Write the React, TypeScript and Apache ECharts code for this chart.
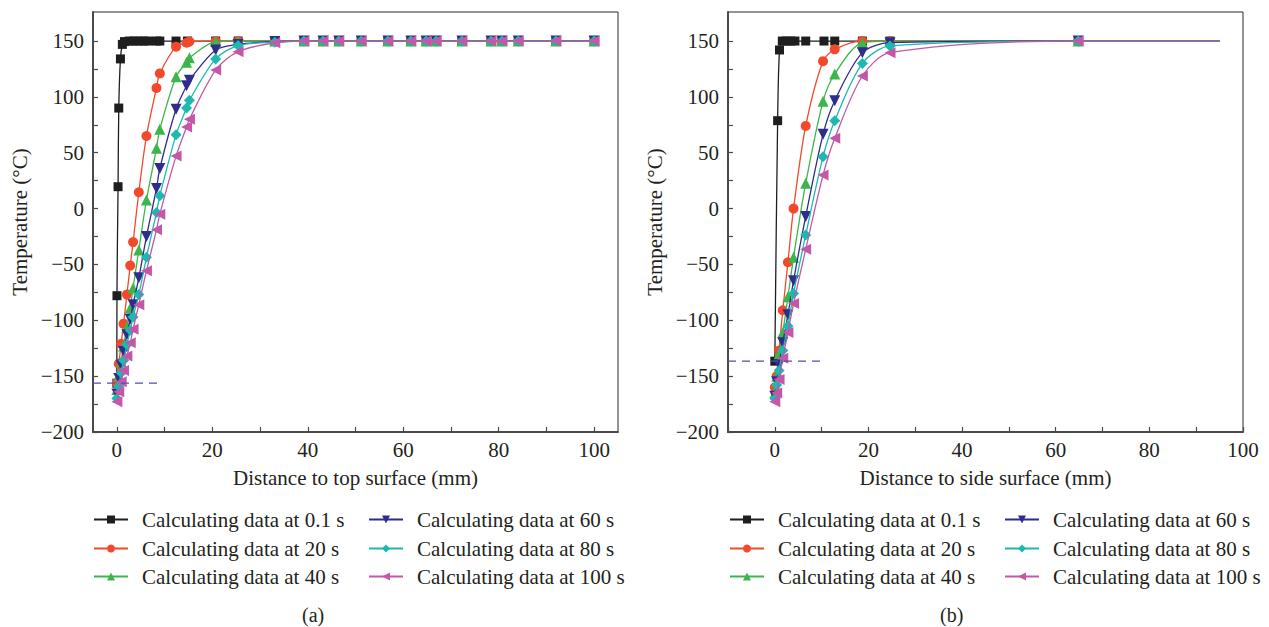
import React, { useEffect, useRef } from "react";
import * as echarts from "echarts";

// ---- (a) distance to top surface ----
const topNodes = [0, 0.4, 0.9, 1.4, 2.1, 2.8, 3.4, 4.6, 6.2, 8.3, 9.0, 12.4, 14.6, 15.2, 20.7, 25.4, 33.1, 39.2, 43.2, 46.5, 51.2, 56.8, 61.6, 64.8, 66.9, 72.3, 78.4, 80.7, 84.1, 92.0, 100];
const topNodesFast = [0, 0.02, 0.25, 0.4, 0.75, 1.15, 1.6, 2.6, 3.6, 4.6, 5.6, 6.5, 8.3, 9.0, 12.4, 14.8, 20.7, 25.4, 33.1, 39.2, 43.2, 46.5, 51.2, 56.8, 61.6, 64.8, 66.9, 72.3, 78.4, 80.7, 84.1, 92.0, 100];
const top01s = [-156.3, -78, 19.6, 90, 134, 147, 149.5, 150, 150, 150, 150, 150, 150, 150, 150, 150, 150, 150, 150, 150, 150, 150, 150, 150, 150, 150, 150, 150, 150, 150, 150, 150, 150];
const top20s = [-156, -139, -121, -103, -77, -51, -30, 14.6, 65, 108, 121, 145, 148.5, 149.5, 150, 150, 150, 150, 150, 150, 150, 150, 150, 150, 150, 150, 150, 150, 150, 150, 150];
const top40s = [-162, -150, -137, -123, -106, -89, -71, -37, 7.7, 54, 71, 118, 131, 135, 149.5, 150, 150, 150, 150, 150, 150, 150, 150, 150, 150, 150, 150, 150, 150, 150, 150];
const top60s = [-166, -152, -140, -128, -113, -99, -86, -62, -25, 18, 36, 89, 110, 115, 142, 147, 149.5, 150, 150, 150, 150, 150, 150, 150, 150, 150, 150, 150, 150, 150, 150];
const top80s = [-170, -159, -147, -136, -122, -109, -97, -77, -43.6, -3.6, 11.6, 66, 90, 97, 134, 146, 149, 150, 150, 150, 150, 150, 150, 150, 150, 150, 150, 150, 150, 150, 150];
const top100s = [-173, -164, -155, -145, -132, -120, -108, -86, -55.6, -19, -5, 47, 73, 80, 124, 140.5, 148.5, 150, 150, 150, 150, 150, 150, 150, 150, 150, 150, 150, 150, 150, 150];

// ---- (b) distance to side surface ----
const sideNodes = [0, 0.4, 0.9, 1.7, 2.8, 4.0, 6.6, 10.3, 12.8, 18.7, 24.6, 64.8, 95];
const sideNodesFast = [0, 0.6, 1.0, 1.6, 2.5, 3.4, 4.3, 6.6, 10.5, 12.8, 18.7, 24.6, 64.8, 95];
const side01s = [-136.6, 78.7, 142, 150, 150, 150, 150, 150, 150, 150, 150, 150, 150, 150];
const side20s = [-160, -150, -127, -91, -48, 0, 74, 132, 142.6, 150, 150, 150, 150];
const side40s = [-165, -150, -130, -111, -79, -43.6, 22.6, 96, 120.5, 148.5, 150, 150, 150];
const side60s = [-168, -155, -140, -120, -95, -64.5, -7, 66.5, 96.6, 139.6, 148.5, 150, 150];
const side80s = [-170, -158, -145, -127, -105, -76, -23.6, 46.5, 78.7, 130, 145.6, 150, 150];
const side100s = [-173, -165, -153, -134, -111, -85, -36.4, 30, 63, 118.7, 139.6, 150, 150];

const seriesNames = [
  "Calculating data at 0.1 s",
  "Calculating data at 20 s",
  "Calculating data at 40 s",
  "Calculating data at 60 s",
  "Calculating data at 80 s",
  "Calculating data at 100 s",
];
const colors = ["#1e1e1e", "#f2482b", "#3cb54a", "#2f2c8c", "#1cb8b2", "#c457a8"];
const symbols = [
  "rect",
  "circle",
  "triangle",
  "path://M0,0 L10,0 L5,10 Z",
  "diamond",
  "path://M10,0 L10,10 L0,5 Z",
];
const symbolSizes = [9, 10, 11, 11, 11, 11];

const topMin = 156.3; // surface value at 0.1 s, top
const sideMin = 136.6; // surface value at 0.1 s, side

const xTicksTop = [0, 10, 20, 30, 40, 50, 60, 70, 80, 90, 100];
const xLabelsTop = [0, 20, 40, 60, 80, 100];
const xTicksSide = [-10, 0, 10, 20, 30, 40, 50, 60, 70, 80, 90, 100];
const xLabelsSide = [0, 20, 40, 60, 80, 100];
const yTicks = [-200, -175, -150, -125, -100, -75, -50, -25, 0, 25, 50, 75, 100, 125, 150];
const yLabels = [-200, -150, -100, -50, 0, 50, 100, 150];

const FONT = "Liberation Serif";
const TEXT = "#231f20";

function zip(xs: number[], ys: number[], lastNoSymbol = false) {
  return ys.map((y, i) => {
    if (lastNoSymbol && i === ys.length - 1) {
      return { value: [xs[i], y], symbol: "none" };
    }
    return [xs[i], y];
  });
}

const minusFmt = (v: number) => String(v).replace("-", "\u2212");

export default function App() {
  const ref = useRef<HTMLDivElement>(null);

  useEffect(() => {
    if (!ref.current) return;
    const chart = echarts.init(ref.current, undefined, { renderer: "svg" });

    const topData = [top01s, top20s, top40s, top60s, top80s, top100s];
    const sideData = [side01s, side20s, side40s, side60s, side80s, side100s];

    const mkSeries = (gi: number, i: number, data: any[]) => ({
      name: seriesNames[i],
      type: "line",
      xAxisIndex: gi,
      yAxisIndex: gi,
      data,
      smooth: 0.3,
      symbol: symbols[i],
      symbolSize: symbolSizes[i],
      showAllSymbol: true,
      lineStyle: { color: colors[i], width: 1.3 },
      itemStyle: { color: colors[i] },
      z: 2 + i,
    });

    const series: any[] = [];
    topData.forEach((d, i) => {
      series.push(mkSeries(0, i, zip(i === 0 ? topNodesFast : topNodes, d)));
    });
    sideData.forEach((d, i) => {
      series.push(mkSeries(1, i, zip(i === 0 ? sideNodesFast : sideNodes, d, true)));
    });

    const dashLine = (gi: number, x0: number, x1: number, v: number, offY: number) => ({
      type: "line",
      xAxisIndex: gi,
      yAxisIndex: gi,
      symbol: "none",
      silent: true,
      z: 20,
      lineStyle: { color: "#5050b0", width: 1.2, type: [8, 6] },
      data: [
        {
          value: [x0, -v],
          label: {
            show: true,
            position: "left",
            distance: 8,
            offset: [0, offY],
            formatter: minusFmt(-v),
            color: "#f2482b",
            fontFamily: FONT,
            fontSize: 15,
          },
        },
        [x1, -v],
      ],
    });
    series.push(dashLine(0, -5, 8.6, topMin, 8));
    series.push(dashLine(1, -10, 10, sideMin, -7));

    const axisLine = { show: true, onZero: false, lineStyle: { color: "#4a4a4a", width: 2 } };
    const tickStyle = { color: "#4a4a4a", width: 1.2 };
    const labelBase = { color: TEXT, fontFamily: FONT, fontSize: 21 };
    const nameBase = { color: TEXT, fontFamily: FONT, fontSize: 21 };

    const yAxis = (gi: number) => ({
      type: "value",
      gridIndex: gi,
      min: -200,
      max: 176,
      name: "Temperature (°C)",
      nameLocation: "middle",
      nameGap: 63,
      nameTextStyle: nameBase,
      axisLine,
      axisTick: { show: true, inside: true, length: 5, customValues: yTicks, lineStyle: tickStyle },
      axisLabel: { ...labelBase, margin: 9, customValues: yLabels, formatter: minusFmt },
      splitLine: { show: false },
    });

    const xAxis = (gi: number, min: number, max: number, name: string, ticks: number[], labels: number[]) => ({
      type: "value",
      gridIndex: gi,
      min,
      max,
      name,
      nameLocation: "middle",
      nameGap: 35,
      nameTextStyle: nameBase,
      axisLine,
      axisTick: { show: true, inside: true, length: 5, customValues: ticks, lineStyle: tickStyle },
      axisLabel: { ...labelBase, margin: 7, customValues: labels, formatter: minusFmt },
      splitLine: { show: false },
    });

    const legends: any[] = [];
    const legendPos = [
      [93, 521], [93, 550], [93, 578], [368, 521], [368, 550], [368, 578],
    ];
    [0, 636].forEach((dx) => {
      seriesNames.forEach((n, i) => {
        legends.push({
          data: [n],
          left: legendPos[i][0] + dx,
          top: legendPos[i][1] - 12,
          itemWidth: 34,
          itemHeight: 10,
          itemGap: 0,
          padding: 0,
          textStyle: { color: TEXT, fontFamily: FONT, fontSize: 21, padding: [0, 0, 0, 9] },
          selectedMode: false,
        });
      });
    });

    chart.setOption({
      animation: false,
      backgroundColor: "#ffffff",
      grid: [
        { left: 93, top: 12, width: 525, height: 420, show: true, borderColor: "#2a2a2a", borderWidth: 1 },
        { left: 728, top: 12, width: 515, height: 420, show: true, borderColor: "#2a2a2a", borderWidth: 1 },
      ],
      xAxis: [
        xAxis(0, -5, 105, "Distance to top surface (mm)", xTicksTop, xLabelsTop),
        xAxis(1, -10, 100, "Distance to side surface (mm)", xTicksSide, xLabelsSide),
      ],
      yAxis: [yAxis(0), yAxis(1)],
      legend: legends,
      series,
      graphic: [
        { type: "text", left: 302, top: 605, style: { text: "(a)", fontFamily: FONT, fontSize: 20, fill: TEXT } },
        { type: "text", left: 940, top: 605, style: { text: "(b)", fontFamily: FONT, fontSize: 20, fill: TEXT } },
      ],
    });

    return () => chart.dispose();
  }, []);

  return (
    <div
      ref={ref}
      style={{ position: "fixed", left: 0, top: 0, width: 1269, height: 627, background: "#fff" }}
    />
  );
}
